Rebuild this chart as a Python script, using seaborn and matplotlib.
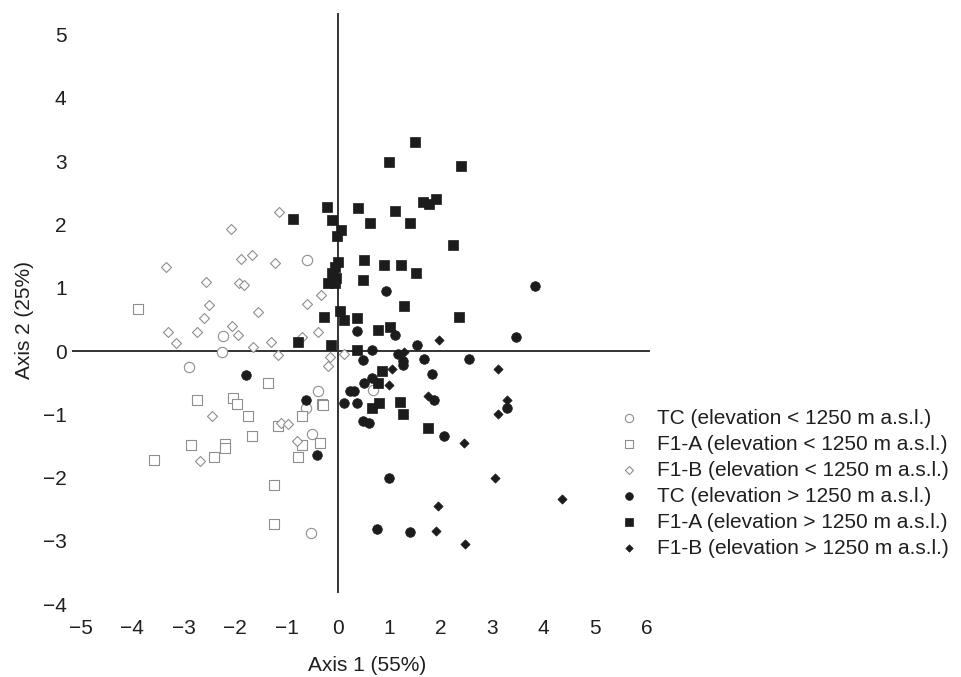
import matplotlib
matplotlib.use("Agg")
import matplotlib.pyplot as plt
import seaborn as sns
import pandas as pd

# ---------------- data ----------------
tc_low_x = [-0.60, -2.24, -2.26, -2.90, -0.38, -0.62, -0.51, -0.53, 0.69]
tc_low_y = [1.44, 0.23, -0.01, -0.26, -0.63, -0.90, -1.31, -2.88, -0.61]

f1a_low_x = [-3.90, -1.37, -2.75, -2.04, -1.97, -1.76, -0.32, -0.29, -0.71, -1.16,
             -1.67, -0.35, -0.71, -2.86, -2.20, -2.20, -2.42, -3.58, -0.77, -1.25, -1.25]
f1a_low_y = [0.66, -0.51, -0.77, -0.75, -0.83, -1.02, -0.83, -0.86, -1.02, -1.18,
             -1.35, -1.45, -1.48, -1.48, -1.47, -1.53, -1.67, -1.72, -1.67, -2.11, -2.74]

f1b_low_x = [-1.14, -2.09, -1.88, -1.67, -1.23, -3.35, -2.57, -1.92, -1.82, -0.33,
             -2.51, -0.60, -1.56, -2.61, -2.06, -3.31, -2.75, -1.94, -0.38, -3.16,
             -1.65, -1.31, -0.71, -1.16, -0.16, -0.20, 0.12, -2.45, -1.11, -0.98,
             -0.80, -2.68]
f1b_low_y = [2.19, 1.92, 1.46, 1.51, 1.39, 1.32, 1.09, 1.08, 1.04, 0.88,
             0.72, 0.74, 0.61, 0.52, 0.39, 0.30, 0.30, 0.25, 0.30, 0.12,
             0.07, 0.15, 0.22, -0.07, -0.09, -0.24, -0.04, -1.02, -1.13, -1.16,
             -1.42, -1.74]

tc_high_x = [0.93, 0.36, 1.11, 3.83, 3.47, 1.53, 0.66, 1.17, 1.26, 1.26,
             0.48, 1.68, 2.54, 1.82, 0.66, 0.51, 0.23, 0.31, 0.12, 0.36,
             1.86, 0.49, 0.60, 2.06, 3.29, 0.99, 0.75, 1.41, -1.79, -0.62, -0.41]
tc_high_y = [0.95, 0.32, 0.25, 1.03, 0.22, 0.09, 0.01, -0.04, -0.15, -0.22,
             -0.14, -0.12, -0.12, -0.36, -0.42, -0.50, -0.63, -0.63, -0.82, -0.82,
             -0.77, -1.11, -1.13, -1.35, -0.90, -2.01, -2.81, -2.86, -0.38, -0.77, -1.64]

f1a_high_x = [1.50, 0.99, 2.40, -0.21, 0.38, 1.11, 1.65, 1.77, 1.91, -0.87,
              -0.12, 0.06, -0.02, 0.63, 1.41, 2.24, 0.00, -0.06, 0.51, 0.90,
              1.23, 1.52, -0.11, -0.03, -0.19, -0.06, 0.48, 1.29, 2.36, -0.27,
              0.03, 0.12, 0.36, 0.78, 1.02, 0.36, -0.14, -0.77, 0.85, 0.78,
              0.80, 0.66, 1.20, 1.26, 1.76]
f1a_high_y = [3.30, 2.99, 2.92, 2.28, 2.26, 2.21, 2.35, 2.33, 2.40, 2.09,
              2.07, 1.91, 1.82, 2.02, 2.02, 1.68, 1.41, 1.33, 1.44, 1.36,
              1.36, 1.24, 1.23, 1.15, 1.07, 1.07, 1.12, 0.71, 0.54, 0.54,
              0.63, 0.49, 0.52, 0.34, 0.38, 0.02, 0.09, 0.15, -0.32, -0.50,
              -0.82, -0.90, -0.80, -1.00, -1.21]

f1b_high_x = [1.97, 1.28, 1.05, 0.99, 1.76, 3.11, 3.29, 3.11, 2.45, 3.05,
              4.36, 1.94, 1.91, 2.47]
f1b_high_y = [0.17, -0.01, -0.29, -0.53, -0.71, -0.29, -0.78, -0.99, -1.45, -2.01,
              -2.33, -2.45, -2.84, -3.05]

labels = ["TC (elevation < 1250 m a.s.l.)",
          "F1-A (elevation < 1250 m a.s.l.)",
          "F1-B (elevation < 1250 m a.s.l.)",
          "TC (elevation > 1250 m a.s.l.)",
          "F1-A (elevation > 1250 m a.s.l.)",
          "F1-B (elevation > 1250 m a.s.l.)"]

x_ticks = [-5, -4, -3, -2, -1, 0, 1, 2, 3, 4, 5, 6]
y_ticks = [-4, -3, -2, -1, 0, 1, 2, 3, 4, 5]

# ---------------- styling ----------------
sns.set_theme(style="white")
plt.rcParams["font.family"] = ["Liberation Sans", "DejaVu Sans"]

FS = 15
GRAY = "#8f8f8f"
BLACK = "#1c1c1c"
TXT = "#1f1f1f"

fig = plt.figure(figsize=(9.61, 6.77), dpi=100)
ax = fig.add_axes([0.0736, 0.1075, 0.6044, 0.8789])

groups = [
    (tc_low_x, tc_low_y, "o", 55, "white", GRAY, 0.8),
    (f1a_low_x, f1a_low_y, "s", 55, "white", GRAY, 0.8),
    (f1b_low_x, f1b_low_y, "D", 26, "white", GRAY, 0.8),
    (tc_high_x, tc_high_y, "o", 48, BLACK, BLACK, 0.5),
    (f1a_high_x, f1a_high_y, "s", 50, BLACK, BLACK, 0.5),
    (f1b_high_x, f1b_high_y, "D", 22, BLACK, BLACK, 0.5),
]

for (gx, gy, mk, s, fc, ec, lw), lab in zip(groups, labels):
    df = pd.DataFrame({"x": gx, "y": gy})
    sns.scatterplot(data=df, x="x", y="y", marker=mk, s=s, color=fc,
                    edgecolor=ec, linewidth=lw, label=lab, ax=ax, zorder=3)

ax.set_xlim(-5.2, 6.1)
ax.set_ylim(-4.0, 5.4)

# axis lines through the origin
ax.hlines(0, -5.18, 6.07, color="#333333", linewidth=1.4, zorder=2)
ax.vlines(0, -3.82, 5.34, color="#333333", linewidth=1.4, zorder=2)

for sp in ax.spines.values():
    sp.set_visible(False)

ax.set_xticks(x_ticks)
ax.set_yticks(y_ticks)
ax.set_xticklabels([str(v).replace("-", "\u2212") for v in x_ticks])
ax.set_yticklabels([str(v).replace("-", "\u2212") for v in y_ticks])
ax.tick_params(axis="both", length=0, labelsize=FS, colors=TXT)
ax.tick_params(axis="x", pad=10.5)
ax.tick_params(axis="y", pad=3)
ax.grid(False)

ax.set_xlabel("Axis 1 (55%)", fontsize=FS, color=TXT)
ax.set_ylabel("Axis 2 (25%)", fontsize=FS, color=TXT)
ax.xaxis.label.set_va("center")
ax.yaxis.label.set_va("center")
ax.xaxis.set_label_coords(0.510, -0.103)
ax.yaxis.set_label_coords(-0.0804, 0.4777)

leg = ax.legend(loc="upper left", bbox_to_anchor=(608 / 961, 1 - 408.5 / 677),
                bbox_transform=fig.transFigure, frameon=False, fontsize=FS,
                markerscale=0.8, handlelength=2.0, handletextpad=0.35,
                labelspacing=0.34, borderaxespad=0, borderpad=0)
for t in leg.get_texts():
    t.set_color(TXT)

fig.savefig("out.png", dpi=100)
